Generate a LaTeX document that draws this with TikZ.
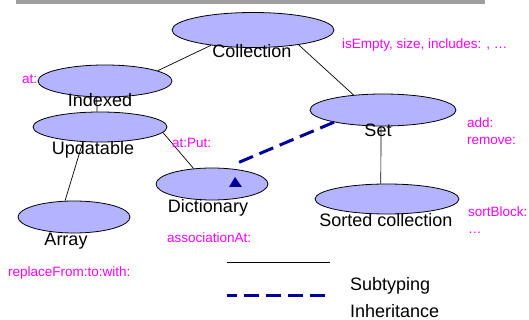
\documentclass[tikz,border=0pt]{standalone}
\usepackage{fontspec}
\setmainfont{Liberation Sans}
\usetikzlibrary{shapes.geometric}
\definecolor{ellfill}{RGB}{179,179,255}
\definecolor{navyb}{RGB}{0,0,153}
\definecolor{mag}{RGB}{255,0,255}
\tikzset{
  ell/.style={ellipse,draw=black,line width=0.8pt,fill=ellfill,inner sep=0pt},
  lbl/.style={anchor=base,inner sep=0pt,font=\fontsize{18}{20}\selectfont},
  mlbl/.style={anchor=base west,inner sep=0pt,text=mag,font=\fontsize{13.5}{15}\selectfont},
  sub/.style={draw=black,line width=0.7pt},
  inh/.style={draw=navyb,line width=3pt,dash pattern=on 15pt off 7pt}
}
\begin{document}
\begin{tikzpicture}[x=1pt,y=-1pt]
\useasboundingbox (0,0) rectangle (529,320);
\fill[gray!75] (16,0) rectangle (485,4);
% ellipses
\node[ell,minimum width=162pt,minimum height=35pt] (coll) at (253,30) {};
\node[ell,minimum width=134pt,minimum height=32pt] (idx) at (105,81) {};
\node[ell,minimum width=134pt,minimum height=30pt] (upd) at (100,127) {};
\node[ell,minimum width=112pt,minimum height=32pt] (dict) at (212,184) {};
\node[ell,minimum width=146pt,minimum height=32pt] (set) at (383,110) {};
\node[ell,minimum width=144pt,minimum height=30pt] (sorted) at (387,199) {};
\node[ell,minimum width=112pt,minimum height=32pt] (arr) at (74,217) {};
% connectors
\draw[sub] (coll.200) -- (idx.11);
\draw[sub] (coll.342) -- (set.153);
\draw[sub] (idx.243) -- (upd.101);
\draw[sub] (upd.221) -- (arr.119);
\draw[sub] (upd.355) -- (dict.140);
\draw[sub] (set.263) -- (sorted.112);
\draw[inh,shorten >=14pt] (set.194) -- (dict.50);
\fill[navyb] (235,177) -- (229,187) -- (242,187) -- cycle;
% labels
\node[lbl] (tcoll) at (252,58) {Collection};
\node[lbl] (tidx) at (100,107) {Indexed};
\node[lbl] (tupd) at (93,155) {Updatable};
\node[lbl] (tdict) at (208,212) {Dictionary};
\node[lbl] (tset) at (378,137) {Set};
\node[lbl] (tsorted) at (386,226) {Sorted collection};
\node[lbl] (tarr) at (66,245) {Array};
% methods
\node[mlbl] (m1) at (342,49) {isEmpty, size, includes: , …};
\node[mlbl] (m2) at (22,84) {at:};
\node[mlbl] (m3) at (172,148) {at:Put:};
\node[mlbl] (m4) at (467,128) {add:};
\node[mlbl] (m5) at (467,145) {remove:};
\node[mlbl] (m6) at (468,216) {sortBlock:};
\node[mlbl] (m7) at (468,233) {…};
\node[mlbl] (m8) at (167,242) {associationAt:};
\node[mlbl] (m9) at (8,276) {replaceFrom:to:with:};
% legend
\coordinate (l1a) at (227,262);
\coordinate (l1b) at (330,262);
\coordinate (l2a) at (227,295);
\coordinate (l2b) at (330,295);
\draw[sub] (l1a) -- (l1b);
\draw[inh,dash pattern=on 10pt off 7pt on 15pt off 7pt on 15pt off 7pt on 15pt off 7pt on 15pt off 7pt] (l2a) -- (l2b);
\node[lbl,anchor=base west] (tsub) at (350,290) {Subtyping};
\node[lbl,anchor=base west] (tinh) at (350,317) {Inheritance};
\end{tikzpicture}
\end{document}
